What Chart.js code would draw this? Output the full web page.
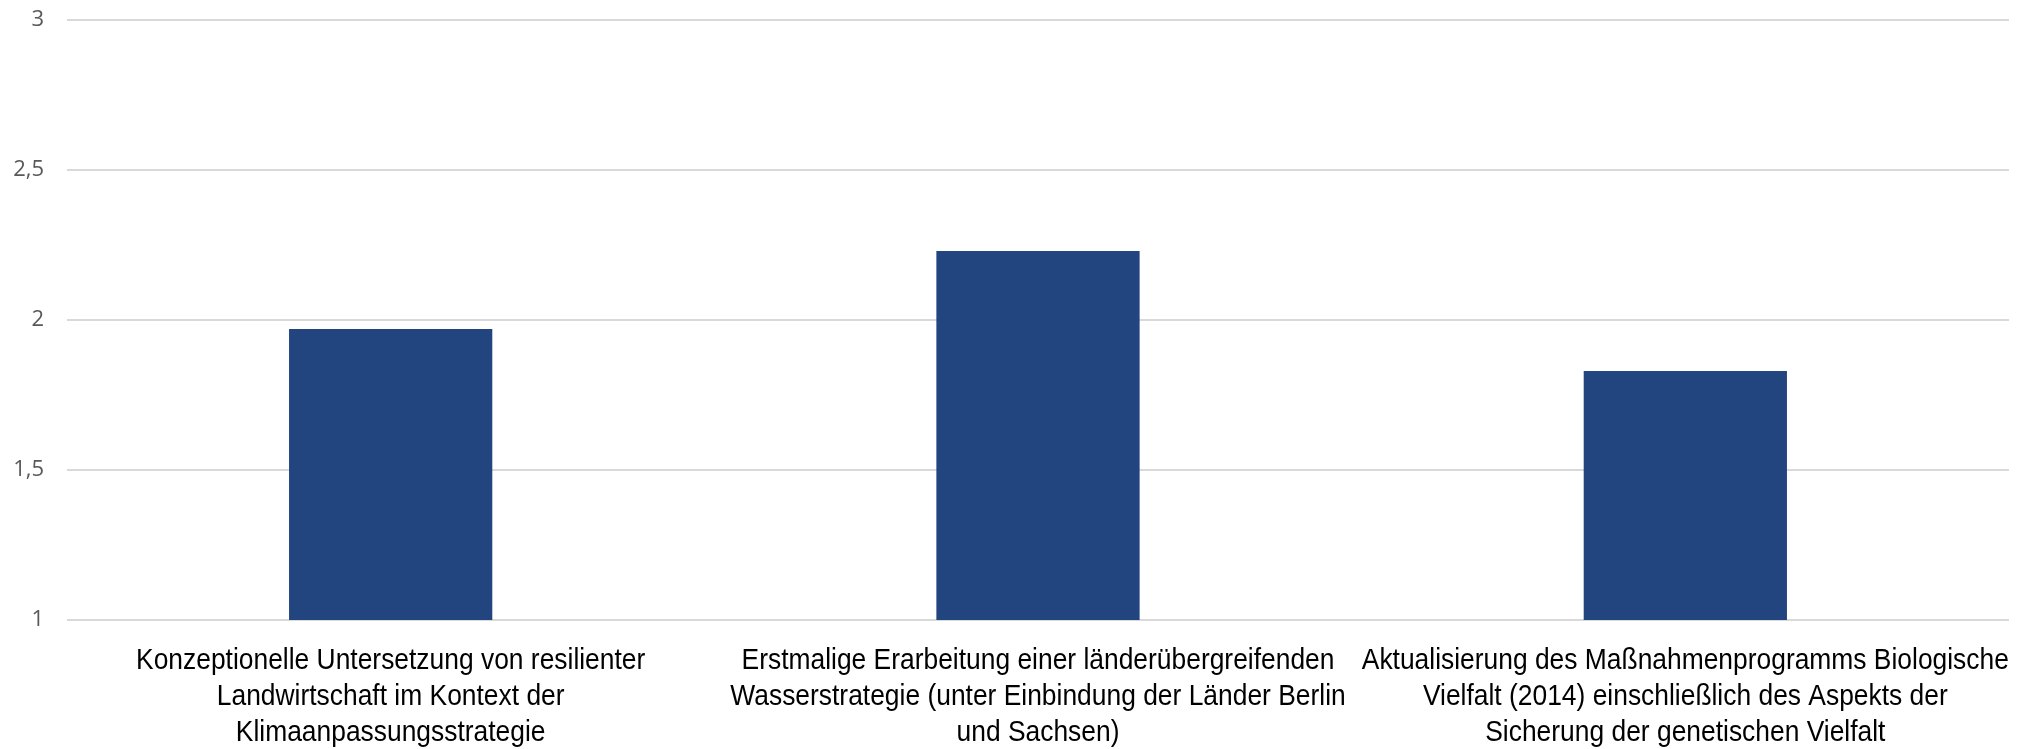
<!DOCTYPE html>
<html lang="de">
<head>
<meta charset="utf-8">
<title>Maßnahmen</title>
<script src="https://cdn.jsdelivr.net/npm/chart.js@4.4.1/dist/chart.umd.min.js"></script>
<style>
    html, body { margin: 0; padding: 0; background: #ffffff; }
    #contenedor { width: 2031px; height: 749px; position: relative; }
</style>
</head>
<body>
<div id="contenedor">
    <canvas id="grafica-massnahmen"></canvas>
</div>
<script>
// Kategorien (mehrzeilig) und Werte
const kategorien = [
    ['Konzeptionelle Untersetzung von resilienter', 'Landwirtschaft im Kontext der', 'Klimaanpassungsstrategie'],
    ['Erstmalige Erarbeitung einer länderübergreifenden', 'Wasserstrategie (unter Einbindung der Länder Berlin', 'und Sachsen)'],
    ['Aktualisierung des Maßnahmenprogramms Biologische', 'Vielfalt (2014) einschließlich des Aspekts der', 'Sicherung der genetischen Vielfalt']
];
const werte = [1.97, 2.23, 1.83];

// Achsenbereich
const yMin = 1;
const yMax = 3;
const ySchritt = 0.5;

// Kategorienbeschriftung in schmaler Schrift (horizontal gestaucht), da keine Narrow-Schrift installiert ist
const etiquetasX = {
    id: 'etiquetasX',
    afterDraw(chart) {
        const escala = chart.scales.x;
        const c = chart.ctx;
        c.save();
        c.fillStyle = '#000000';
        c.font = '30px "Liberation Sans", Arial, sans-serif';
        c.textAlign = 'center';
        c.textBaseline = 'alphabetic';
        chart.data.labels.forEach((lineas, i) => {
            const x = escala.getPixelForValue(i);
            lineas.forEach((linea, j) => {
                c.save();
                c.translate(x, escala.top + 49 + j * 36);
                c.scale(0.88, 1);
                c.fillText(linea, 0, 0);
                c.restore();
            });
        });
        c.restore();
    }
};

const ctx = document.getElementById('grafica-massnahmen').getContext('2d');

let grafica = new Chart(ctx, {
    type: 'bar',
    data: {
        labels: kategorien,
        datasets: [{
            data: werte,
            backgroundColor: '#23457f',
            borderWidth: 0,
            barPercentage: 1,
            categoryPercentage: 0.314
        }]
    },
    options: {
        responsive: true,
        maintainAspectRatio: false,
        animation: false,
        layout: {
            padding: { top: 20, right: 22, left: 0, bottom: 0 }
        },
        plugins: {
            legend: { display: false },
            tooltip: { enabled: false }
        },
        scales: {
            x: {
                grid: { display: false, drawTicks: false },
                border: { display: false },
                ticks: { display: false },
                afterFit: (scale) => { scale.height = 129; }
            },
            y: {
                min: yMin,
                max: yMax,
                // unsichtbare Tickmarken schaffen den Abstand zwischen Zahlen und Gitter
                grid: { color: '#d9d9d9', lineWidth: 2, drawTicks: true, tickLength: 23, tickColor: 'rgba(0,0,0,0)' },
                border: { display: false },
                ticks: {
                    stepSize: ySchritt,
                    color: '#595959',
                    font: { family: '"Open Sans", "Noto Sans", sans-serif', size: 22 },
                    padding: 0,
                    callback: (valor) => String(valor).replace('.', ',')
                },
                afterFit: (scale) => { scale.width = 67; }
            }
        }
    },
    plugins: [etiquetasX]
});
</script>
</body>
</html>
